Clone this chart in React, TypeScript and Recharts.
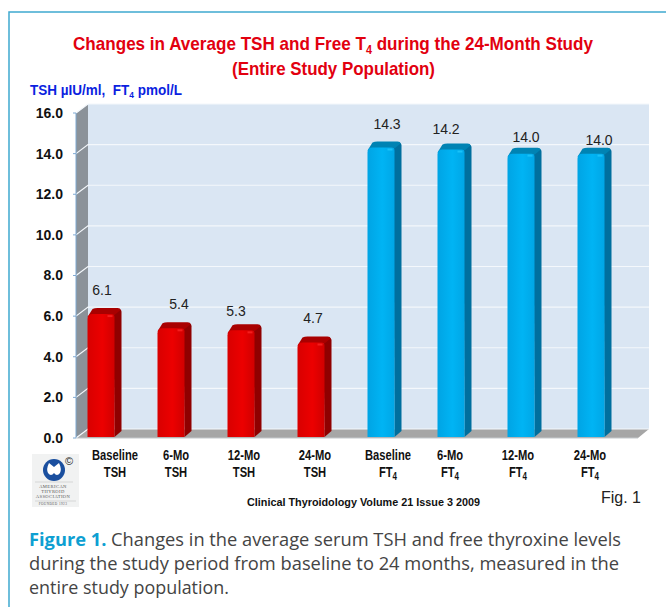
import React from 'react';
import { BarChart, Bar, XAxis, YAxis, CartesianGrid, LabelList } from 'recharts';

const periods = ['Baseline', '6-Mo', '12-Mo', '24-Mo', 'Baseline', '6-Mo', '12-Mo', '24-Mo'];
const analytes = ['TSH', 'TSH', 'TSH', 'TSH', 'FT4', 'FT4', 'FT4', 'FT4'];
const averages = [6.1, 5.4, 5.3, 4.7, 14.3, 14.2, 14.0, 14.0];
const yTicks = [0, 2, 4, 6, 8, 10, 12, 14, 16];

const chartData = periods.map((period, i) => ({
  key: `${period} ${analytes[i]}`,
  period,
  analyte: analytes[i],
  value: averages[i],
}));

// the source chart nudged its labels by hand, so these are not regular
const tickNudge = [4, -5, -7, -6, -3, -11, -13, -11];
const labelNudge = [
  [1, -24], [8, -24], [-5, -19], [2, -25], [6, -24], [-5, -21], [5, -17], [8, -14],
];

const W = 666;
const H = 607;
const PLOT = { left: 76, right: 636, top: 113, bottom: 438 };
const DEPTH = { x: 12, y: 9 };
const BAR_SHIFT = -10.5;
const SANS = '"Liberation Sans", Arial, sans-serif';

const PALETTE: Record<string, { front: string; side: string; cap: string; glow: string }> = {
  TSH: { front: 'url(#frontRed)', side: '#8f0000', cap: '#a90000', glow: '#ff2a2a' },
  FT4: { front: 'url(#frontBlue)', side: '#006f9e', cap: '#0083b3', glow: '#22ccff' },
};

const Bar3D = (props: any) => {
  const { x, y, width, height, payload } = props;
  const c = PALETTE[payload.analyte];
  const l = x + BAR_SHIFT;
  const r = l + width;
  const b = y + height - 1;
  const dx = 7;
  const dy = 6;
  return (
    <g>
      <path d={`M${r - 1} ${y}L${r + dx - 3} ${y - dy + 1}Q${r + dx} ${y - dy + 1} ${r + dx} ${y - dy + 4}L${r + dx} ${b - dy}L${r} ${b}Z`} fill={c.side} />
      <path d={`M${l} ${y + 3}L${l + dx - 2} ${y - dy + 1}Q${l + dx} ${y - dy} ${l + dx + 3} ${y - dy}L${r + dx - 4} ${y - dy}Q${r + dx - 1} ${y - dy} ${r + dx - 1} ${y - dy + 2}L${r} ${y + 1}Z`} fill={c.cap} />
      <path d={`M${l} ${b}L${l} ${y + 5}Q${l} ${y} ${l + 5} ${y}L${r - 3} ${y}Q${r} ${y} ${r} ${y + 3}L${r} ${b}Z`} fill={c.front} />
      <rect x={r - 7} y={y + 1} width={5} height={2} fill={c.glow} opacity={0.7} />
    </g>
  );
};

const BarValue = (props: any) => {
  const { x, y, width, value, index } = props;
  const [nx, ny] = labelNudge[index];
  return (
    <text
      x={x + BAR_SHIFT + width / 2 + nx}
      y={y + ny + 5}
      textAnchor="middle"
      fontFamily={SANS}
      fontSize={14}
      fill="#222"
    >
      {Number(value).toFixed(1)}
    </text>
  );
};

const CategoryTick = (props: any) => {
  const { x, index } = props;
  const row = chartData[index];
  const cx = x + tickNudge[index];
  const shared = { fontFamily: SANS, fontSize: 14, fontWeight: 700, fill: '#111', textAnchor: 'middle' as const };
  return (
    <g>
      <text transform={`translate(${cx} 460) scale(0.8 1)`} {...shared}>{row.period}</text>
      <text transform={`translate(${cx} 477) scale(0.8 1)`} {...shared}>
        {row.analyte === 'FT4' ? <>FT<tspan fontSize={10} dy={3}>4</tspan></> : row.analyte}
      </text>
    </g>
  );
};

const BackLine = (props: any) => {
  const { x1, x2, y1 } = props;
  return (
    <polyline
      points={`${x1},${y1} ${x1 + DEPTH.x},${y1 - DEPTH.y} ${x2 + 13},${y1 - DEPTH.y}`}
      fill="none"
      stroke="#f4f8fc"
      strokeWidth={1.2}
    />
  );
};

const Room = () => (
  <g>
    <rect x={PLOT.left + DEPTH.x} y={PLOT.top - DEPTH.y} width={561} height={325} fill="#dae6f3" />
    <polygon
      points={`${PLOT.left},${PLOT.top} ${PLOT.left + DEPTH.x},${PLOT.top - DEPTH.y} ${PLOT.left + DEPTH.x},${PLOT.bottom - DEPTH.y} ${PLOT.left},${PLOT.bottom}`}
      fill="#8b9299"
    />
    <polygon
      points={`${PLOT.left},${PLOT.bottom} ${PLOT.left + DEPTH.x},${PLOT.bottom - DEPTH.y} 649,${PLOT.bottom - DEPTH.y} 638,${PLOT.bottom}`}
      fill="#a6a6a6"
    />
    <line x1={PLOT.left} y1={PLOT.bottom} x2={638} y2={PLOT.bottom} stroke="#c4c8cc" />
  </g>
);

const Logo = () => (
  <g>
    <rect x={32} y={454} width={47} height={53} fill="#f1f2f2" />
    <circle cx={54} cy={470} r={11} fill="#1a4f9f" />
    <path d="M49 463 L54 467 L59 463 Q62 469 60 473 Q57 477 54 473 Q51 477 48 473 Q46 469 49 463Z" fill="#fff" />
    <text x={69} y={465} textAnchor="middle" fontFamily={SANS} fontSize={11} fill="#222">©</text>
    <g fontFamily='"Liberation Serif", serif' fontSize={4.6} fill="#555" textAnchor="middle" letterSpacing={0.4}>
      <text x={53} y={488}>AMERICAN</text>
      <text x={53} y={493}>THYROID</text>
      <text x={53} y={498}>ASSOCIATION</text>
      <text x={53} y={505} fontSize={3.4}>FOUNDED 1923</text>
    </g>
    <line x1={35} y1={482} x2={73} y2={482} stroke="#bbb" strokeWidth={0.5} />
    <line x1={35} y1={501} x2={76} y2={501} stroke="#bbb" strokeWidth={0.5} />
  </g>
);

const Backdrop = () => (
  <svg width={W} height={H} style={{ position: 'absolute', left: 0, top: 0 }}>
    <rect x={9} y={12} width={W} height={H} fill="#ffffff" stroke="#3fa9d0" strokeWidth={1.5} />
    <g fontFamily={SANS} fontWeight={700} fontSize={19} fill="#e2000f">
      <text x={73} y={50} textLength={520} lengthAdjust="spacingAndGlyphs">
        Changes in Average TSH and Free T<tspan fontSize={12} dy={4}>4</tspan><tspan dy={-4}> during the 24-Month Study</tspan>
      </text>
      <text x={232} y={75} textLength={203} lengthAdjust="spacingAndGlyphs">(Entire Study Population)</text>
    </g>
    <text x={30} y={95} fontFamily={SANS} fontWeight={700} fontSize={14.5} fill="#0b1fe0" textLength={152} lengthAdjust="spacingAndGlyphs">
      TSH µIU/ml,{'\u00a0 '}FT<tspan fontSize={9} dy={3}>4</tspan><tspan dy={-3}>{'\u00a0'}pmol/L</tspan>
    </text>
    <Room />
    <Logo />
    <text x={247} y={506} fontFamily={SANS} fontWeight={700} fontSize={11} fill="#111" textLength={233} lengthAdjust="spacingAndGlyphs">
      Clinical Thyroidology Volume 21 Issue 3 2009
    </text>
    <text x={601} y={503} fontFamily={SANS} fontSize={16} fill="#222">Fig. 1</text>
    <g fontFamily='"Open Sans", "Noto Sans", sans-serif' fontSize={18} fill="#444">
      <text x={29} y={546} textLength={592} lengthAdjust="spacingAndGlyphs">
        <tspan fontWeight={700} fill="#0e9fd2">Figure 1.</tspan> Changes in the average serum TSH and free thyroxine levels
      </text>
      <text x={29} y={570} textLength={590} lengthAdjust="spacingAndGlyphs">
        during the study period from baseline to 24 months, measured in the
      </text>
      <text x={29} y={594} textLength={200} lengthAdjust="spacingAndGlyphs">entire study population.</text>
    </g>
  </svg>
);

const App = () => (
  <div style={{ position: 'absolute', left: 0, top: 0, width: W, height: H, overflow: 'hidden' }}>
    <Backdrop />
    <div style={{ position: 'absolute', left: 0, top: 0 }}>
      <BarChart
        width={W}
        height={H}
        data={chartData}
        barCategoryGap={0}
        margin={{ top: PLOT.top, right: W - PLOT.right, bottom: 0, left: 16 }}
      >
        <defs>
          <linearGradient id="frontRed" x1="0" x2="1" y1="0" y2="0">
            <stop offset="0" stopColor="#d80000" />
            <stop offset="0.55" stopColor="#ec0000" />
            <stop offset="1" stopColor="#d00000" />
          </linearGradient>
          <linearGradient id="frontBlue" x1="0" x2="1" y1="0" y2="0">
            <stop offset="0" stopColor="#00a4e4" />
            <stop offset="0.55" stopColor="#00b4f4" />
            <stop offset="1" stopColor="#00a6e6" />
          </linearGradient>
        </defs>
        <CartesianGrid vertical={false} horizontal={BackLine} />
        <XAxis dataKey="key" axisLine={false} tickLine={false} interval={0} tick={CategoryTick} height={H - PLOT.bottom} />
        <YAxis
          domain={[0, 16]}
          ticks={yTicks}
          width={60}
          interval={0}
          tickSize={3}
          tickMargin={10}
          tickFormatter={(v: number) => v.toFixed(1)}
          axisLine={{ stroke: '#7fa9d2' }}
          tickLine={{ stroke: '#7fa9d2' }}
          tick={{ fontFamily: SANS, fontSize: 14, fontWeight: 700, fill: '#111' }}
        />
        <Bar dataKey="value" barSize={27} shape={Bar3D} isAnimationActive={false}>
          <LabelList dataKey="value" content={BarValue} />
        </Bar>
      </BarChart>
    </div>
  </div>
);

export default App;
